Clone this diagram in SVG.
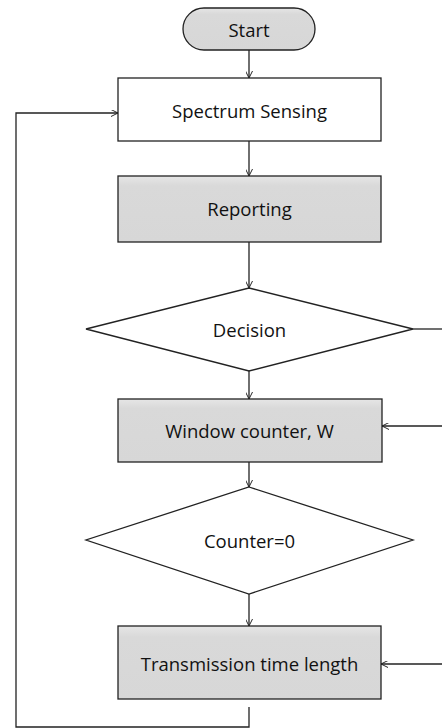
<svg xmlns="http://www.w3.org/2000/svg" width="442" height="728" viewBox="0 0 442 728">
<defs>
<linearGradient id="gray" x1="0" y1="0" x2="0" y2="1">
<stop offset="0" stop-color="#e6e6e6"/>
<stop offset="0.15" stop-color="#d9d9d9"/>
<stop offset="1" stop-color="#d7d7d7"/>
</linearGradient>
<marker id="arr" viewBox="0 0 10 10" refX="10" refY="5" markerWidth="7" markerHeight="7" markerUnits="userSpaceOnUse" orient="auto">
<path d="M0,0 L10,5 L0,10" fill="none" stroke="#222" stroke-width="1.4"/>
</marker>
</defs>
<style>
.box{stroke:#222;stroke-width:1.3}
.w{fill:#fff}
.g{fill:url(#gray)}
.t{font-family:"Open Sans","Noto Sans",sans-serif;font-size:18.5px;fill:#111;text-anchor:middle;dominant-baseline:central}
.c{fill:none;stroke:#222;stroke-width:1.3}
</style>
<rect width="442" height="728" fill="#fff"/>
<g id="start">
<rect x="183" y="8" width="132" height="42" rx="21" ry="21" class="box g"/>
<text x="249" y="29" class="t">Start</text>
</g>
<g id="spectrum">
<rect x="118" y="78" width="263" height="63" class="box w"/>
<text x="249.5" y="110" class="t">Spectrum Sensing</text>
</g>
<g id="reporting">
<rect x="118" y="176" width="263" height="66" class="box g"/>
<text x="249.5" y="208" class="t">Reporting</text>
</g>
<g id="decision">
<polygon points="249,288 413,329 249,371 86,329" class="box w"/>
<text x="249.5" y="329" class="t">Decision</text>
</g>
<g id="window">
<rect x="118" y="399" width="264" height="63" class="box g"/>
<text x="249.5" y="430" class="t">Window counter, W</text>
</g>
<g id="counter">
<polygon points="249,487 413,540 249,594 86,540" class="box w"/>
<text x="249.5" y="540" class="t">Counter=0</text>
</g>
<g id="transmission">
<rect x="118" y="626" width="263" height="73" class="box g"/>
<text x="249.5" y="663" class="t">Transmission time length</text>
</g>
<g id="connectors">
<line x1="249" y1="50" x2="249" y2="78" class="c" marker-end="url(#arr)"/>
<line x1="249" y1="141" x2="249" y2="176" class="c" marker-end="url(#arr)"/>
<line x1="249" y1="242" x2="249" y2="288" class="c" marker-end="url(#arr)"/>
<line x1="249" y1="371" x2="249" y2="399" class="c" marker-end="url(#arr)"/>
<line x1="249" y1="462" x2="249" y2="487" class="c" marker-end="url(#arr)"/>
<line x1="249" y1="594" x2="249" y2="626" class="c" marker-end="url(#arr)"/>
<line x1="413" y1="329" x2="442" y2="329" class="c"/>
<line x1="442" y1="426" x2="382" y2="426" class="c" marker-end="url(#arr)"/>
<line x1="442" y1="664" x2="381" y2="664" class="c" marker-end="url(#arr)"/>
<polyline points="249,707 249,727 16,727 16,113 118,113" class="c" marker-end="url(#arr)"/>
</g>
</svg>
